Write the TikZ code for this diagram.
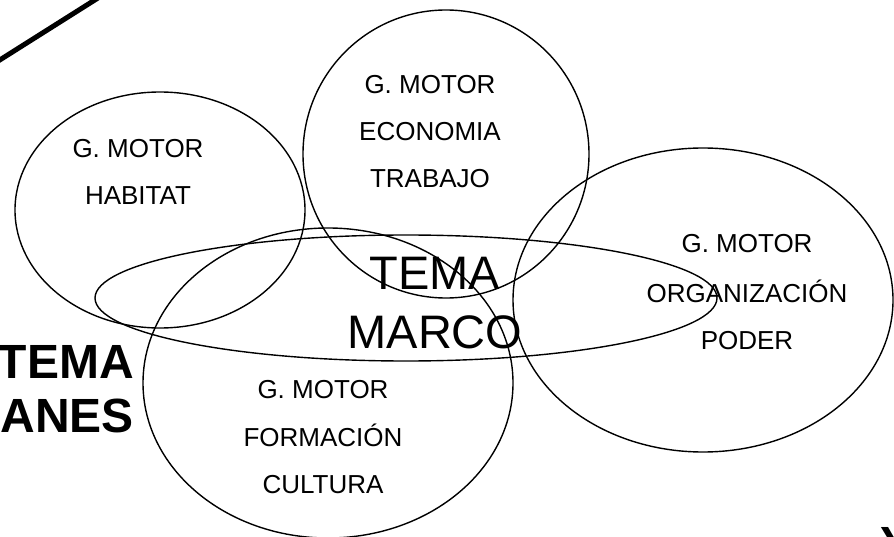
\documentclass[tikz,border=0pt]{standalone}
\usepackage{fontspec}
\setmainfont{Liberation Sans}
\begin{document}
\begin{tikzpicture}[x = 1pt, y = -1pt,
        every node/.style = {inner sep = 0pt},
        motor/.style = {anchor = base, font = \fontsize{26}{31}\selectfont},
        marco/.style = {anchor = base, font = \fontsize{47}{56}\selectfont},
        big/.style = {font = \fontsize{48}{56}\selectfont\bfseries},
        ring/.style = {line width = 1.4pt}]
                \useasboundingbox (0, 0) rectangle (894, 537);
                \clip (0, 0) rectangle (894, 537);
                \draw[line width = 5pt] (-5, 63) -- (98, -2);
                \draw[ring] (160, 210) ellipse [x radius = 145pt, y radius = 118pt];
                \draw[ring] (446, 154) ellipse [x radius = 143pt, y radius = 144pt];
                \draw[ring] (703, 300) ellipse [x radius = 190pt, y radius = 152pt];
                \draw[ring] (328, 383) ellipse [x radius = 185pt, y radius = 155pt];
                \draw[ring] (406, 298) ellipse [x radius = 311pt, y radius = 63pt];
                \node[motor] (hab1) at (138, 158) {G. MOTOR};
                \node[motor] (hab2) at (138, 205) {HABITAT};
                \node[motor] (eco1) at (430, 94) {G. MOTOR};
                \node[motor] (eco2) at (430, 141) {ECONOMIA};
                \node[motor] (eco3) at (430, 188) {TRABAJO};
                \node[motor] (org1) at (747, 253) {G. MOTOR};
                \node[motor] (org2) at (747, 302) {ORGANIZACIÓN};
                \node[motor] (org3) at (747, 349) {PODER};
                \node[motor] (for1) at (323, 398) {G. MOTOR};
                \node[motor] (for2) at (323, 446) {FORMACIÓN};
                \node[motor] (for3) at (323, 493) {CULTURA};
                \node[marco] (tema) at (435, 290) {TEMA};
                \node[marco] (marco) at (435, 348) {MARCO};
                \node[big, anchor = base east] (sist) at (134, 378) {TEMA};
                \node[big, anchor = base east] (plan) at (134, 432) {ANES};
                \node[big, anchor = north west] (yy) at (880, 527) {Y};
\end{tikzpicture}
\end{document}
